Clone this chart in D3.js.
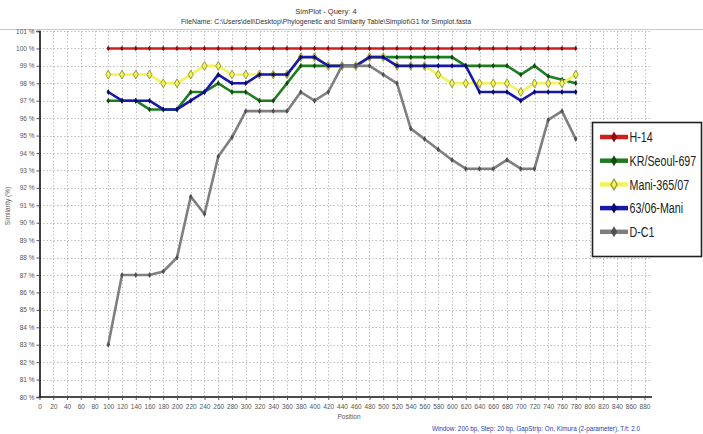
<!DOCTYPE html>
<html>
<head>
<meta charset="utf-8">
<script src="https://cdn.jsdelivr.net/npm/d3@7"></script>
<style>
  html, body { margin: 0; padding: 0; background: #fff; }
  svg { display: block; font-family: "Liberation Sans", Arial, sans-serif; }
</style>
</head>
<body>
<svg id="chart" width="703" height="434"></svg>
<script>
// Window positions (bp)
const positions = [100,120,140,160,180,200,220,240,260,280,300,320,340,360,380,400,420,440,460,480,
                   500,520,540,560,580,600,620,640,660,680,700,720,740,760,780];

// Similarity (%) of each query sequence
const h14 = [100,100,100,100,100,100,100,100,100,100,100,100,100,100,100,100,100,100,100,100,
             100,100,100,100,100,100,100,100,100,100,100,100,100,100,100];
const krSeoul697 = [97,97,97,96.5,96.5,96.5,97.5,97.5,98,97.5,97.5,97,97,98,99,99,99,99,99,99.5,
                    99.5,99.5,99.5,99.5,99.5,99.5,99,99,99,99,98.5,99,98.4,98.2,98];
const mani36507 = [98.5,98.5,98.5,98.5,98,98,98.5,99,99,98.5,98.5,98.5,98.5,98.5,99.5,99.5,99,99,99,99.5,
                   99.5,99,99,99,98.5,98,98,98,98,98,97.5,98,98,98,98.5];
const mani6306 = [97.5,97,97,97,96.5,96.5,97,97.5,98.5,98,98,98.5,98.5,98.5,99.5,99.5,99,99,99,99.5,
                  99.5,99,99,99,99,99,99,97.5,97.5,97.5,97,97.5,97.5,97.5,97.5];
const dc1 = [83,87,87,87,87.2,88,91.5,90.5,93.8,94.9,96.4,96.4,96.4,96.4,97.5,97,97.5,99,99,99,
             98.5,98,95.4,94.8,94.2,93.6,93.1,93.1,93.1,93.6,93.1,93.1,95.9,96.4,94.8];

const seriesNames = ["H-14", "KR/Seoul-697", "Mani-365/07", "63/06-Mani", "D-C1"];
const seriesValues = [h14, krSeoul697, mani36507, mani6306, dc1];

// Axis ticks
const xTicks = [0,20,40,60,80,100,120,140,160,180,200,220,240,260,280,300,320,340,360,380,400,420,440,
                460,480,500,520,540,560,580,600,620,640,660,680,700,720,740,760,780,800,820,840,860,880];
const yTicks = [80,81,82,83,84,85,86,87,88,89,90,91,92,93,94,95,96,97,98,99,100,101];

const titleText = "SimPlot - Query: 4";
const fileText = "FileName: C:\\Users\\dell\\Desktop\\Phylogenetic and Similarity Table\\Simplot\\G1 for Simplot.fasta";
const footText = "Window: 200 bp, Step: 20 bp, GapStrip: On, Kimura (2-parameter), T/t: 2.0";

const styles = [
  { line: "#d01f1f", mark: "#8a1010", hollow: false },
  { line: "#1e7d1e", mark: "#0f4a0f", hollow: false },
  { line: "#f3f35c", mark: "#9a9a3a", hollow: true },
  { line: "#1818aa", mark: "#0b0b60", hollow: false },
  { line: "#7f7f7f", mark: "#505050", hollow: false }
];

const svg = d3.select("#chart");
const x = d3.scaleLinear().domain([0, 880]).range([39.5, 644.5]);
const y = d3.scaleLinear().domain([80, 101]).range([397, 31]);
const plotRight = 652;

// Titles
svg.append("text").attr("x", 326).attr("y", 14).attr("text-anchor", "middle")
  .attr("font-size", 7.5).attr("fill", "#333").text(titleText);
svg.append("text").attr("transform", "translate(326,24) scale(0.92,1)").attr("text-anchor", "middle")
  .attr("font-size", 7.5).attr("fill", "#333").text(fileText);
svg.append("line").attr("x1", 0).attr("x2", 703).attr("y1", 29.5).attr("y2", 29.5)
  .attr("stroke", "#c8c8c8").attr("stroke-width", 1.2);

// Dotted grid
const grid = svg.append("g").attr("stroke", "#b8b8b8").attr("stroke-width", 0.9)
  .attr("stroke-dasharray", "1.5,2");
grid.selectAll("line.h").data(yTicks.filter(v => v > 80)).join("line")
  .attr("x1", x(0)).attr("x2", plotRight)
  .attr("y1", d => Math.round(y(d)) + 0.5).attr("y2", d => Math.round(y(d)) + 0.5);
grid.selectAll("line.v").data(xTicks.filter(v => v > 0)).join("line")
  .attr("x1", d => Math.round(x(d)) + 0.5).attr("x2", d => Math.round(x(d)) + 0.5)
  .attr("y1", y(101)).attr("y2", y(80));

// Axes
const yAxis = d3.axisLeft(y).tickValues(yTicks).tickFormat(d => d + " %").tickSize(3).tickPadding(2);
const gy = svg.append("g").attr("transform", `translate(${x(0)},0)`).call(yAxis);
gy.select(".domain").attr("stroke", "#111").attr("stroke-width", 1.6);
gy.selectAll(".tick line").attr("stroke", "#555");
gy.selectAll("text").attr("font-size", 6.5).attr("fill", "#555").attr("font-family", "Liberation Sans, Arial, sans-serif");

const xAxis = d3.axisBottom(x).tickValues(xTicks).tickFormat(d3.format("d")).tickSize(3).tickPadding(4);
const gx = svg.append("g").attr("transform", `translate(0,${y(80)})`).call(xAxis);
gx.select(".domain").attr("d", `M${x(0)},0H${plotRight}`).attr("stroke", "#111").attr("stroke-width", 1.6);
gx.selectAll(".tick line").attr("stroke", "#555");
gx.selectAll("text").attr("font-size", 6.5).attr("fill", "#555").attr("font-family", "Liberation Sans, Arial, sans-serif");

svg.append("text").attr("x", 349).attr("y", 419).attr("text-anchor", "middle")
  .attr("font-size", 6.5).attr("fill", "#555").text("Position");
svg.append("text").attr("transform", "translate(10,206) rotate(-90)").attr("text-anchor", "middle")
  .attr("font-size", 6.5).attr("fill", "#555").text("Similarity (%)");
svg.append("text").attr("transform", "translate(640,431) scale(0.93,1)").attr("text-anchor", "end")
  .attr("font-size", 6.8).attr("fill", "#3040a8").text(footText);

// Series lines and point markers
const line = d3.line().x((d, i) => x(positions[i])).y(d => y(d));
const diamond = d3.symbol().type(d3.symbolDiamond);

seriesValues.forEach((vals, k) => {
  const st = styles[k];
  const g = svg.append("g");
  g.append("path").datum(vals).attr("d", line).attr("fill", "none")
    .attr("stroke", st.line).attr("stroke-width", 2.6).attr("stroke-linejoin", "round");
  g.selectAll("path.pt").data(vals).join("path").attr("class", "pt")
    .attr("transform", (d, i) => `translate(${x(positions[i])},${y(d)})`)
    .attr("d", diamond.size(st.hollow ? 22 : 10)())
    .attr("fill", st.hollow ? st.line : st.mark)
    .attr("stroke", st.hollow ? st.mark : "none").attr("stroke-width", 1);
});

// Legend
const lg = svg.append("g");
lg.append("rect").attr("x", 592.5).attr("y", 122.5).attr("width", 109).attr("height", 134)
  .attr("fill", "#fff").attr("stroke", "#222").attr("stroke-width", 1.6);
seriesNames.forEach((name, k) => {
  const st = styles[k];
  const cy = 137 + k * 23.7;
  lg.append("line").attr("x1", 600).attr("x2", 628).attr("y1", cy).attr("y2", cy)
    .attr("stroke", st.line).attr("stroke-width", 4.5);
  lg.append("path").attr("transform", `translate(614,${cy})`)
    .attr("d", diamond.size(34)())
    .attr("fill", st.hollow ? st.line : st.mark)
    .attr("stroke", st.hollow ? st.mark : "none").attr("stroke-width", 1.3);
  lg.append("text").attr("transform", `translate(629.5,${cy + 5.2}) scale(0.74,1)`)
    .attr("font-size", 14.5).attr("fill", "#222").text(name);
});
</script>
</body>
</html>
